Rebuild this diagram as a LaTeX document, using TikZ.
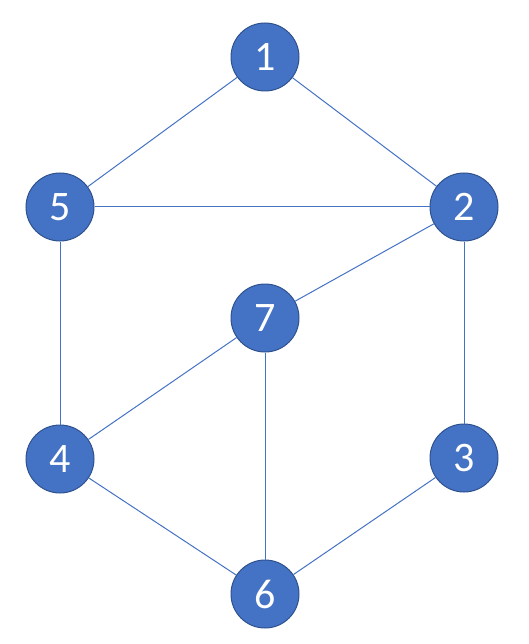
\documentclass[tikz,border=0pt]{standalone}
\usepackage{fontspec}
\setmainfont{Carlito}
\definecolor{nodeblue}{HTML}{4472C4}
\definecolor{nodeedge}{HTML}{2F528F}
\begin{document}
\begin{tikzpicture}[x=1pt, y=-1pt,
  vtx/.style={circle, draw=nodeedge, line width=1pt, fill=nodeblue,
              minimum size=68pt, inner sep=0pt, text=white,
              font=\fontsize{42}{42}\selectfont},
  lnk/.style={draw=nodeblue, line width=1pt}
]
  \useasboundingbox (0,0) rectangle (528,644);

  \node[vtx] (n1) at (265,57)  {1};
  \node[vtx] (n2) at (464,207) {2};
  \node[vtx] (n5) at (60,207)  {5};
  \node[vtx] (n7) at (265,318) {7};
  \node[vtx] (n4) at (60,459)  {4};
  \node[vtx] (n3) at (464,458) {3};
  \node[vtx] (n6) at (265,594) {6};

  \draw[lnk] (n1) -- (n5);
  \draw[lnk] (n1) -- (n2);
  \draw[lnk] (n5) -- (n2);
  \draw[lnk] (n2) -- (n7);
  \draw[lnk] (n5) -- (n4);
  \draw[lnk] (n7) -- (n4);
  \draw[lnk] (n7) -- (n6);
  \draw[lnk] (n2) -- (n3);
  \draw[lnk] (n4) -- (n6);
  \draw[lnk] (n3) -- (n6);
\end{tikzpicture}
\end{document}
